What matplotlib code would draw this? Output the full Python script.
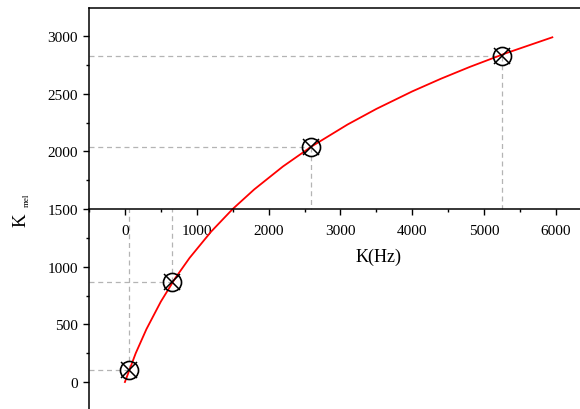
import matplotlib
matplotlib.use("Agg")
import matplotlib.pyplot as plt
from matplotlib.ticker import MultipleLocator

plt.rcParams['font.family'] = ['Liberation Serif', 'DejaVu Serif']

# curve (Hz -> mel)
freq_hz = [0, 150, 300, 500, 700, 900, 1200, 1500, 1800, 2200, 2600,
           3100, 3500, 4000, 4400, 4800, 5300, 5950]
mel = [0, 249, 459, 697, 900, 1076, 1304, 1500, 1670, 1869, 2043,
       2233, 2368, 2520, 2630, 2732, 2850, 2989]

# marked points
marker_hz = [60, 660, 2585, 5245]
marker_mel = [105, 865, 2035, 2825]

x_ticks = [0, 1000, 2000, 3000, 4000, 5000, 6000]
y_ticks = [0, 500, 1000, 1500, 2000, 2500, 3000]
x_cross = 1500  # y value where the x axis is drawn

fig = plt.figure(figsize=(5.8, 4.1), dpi=100)
ax = fig.add_axes([89 / 580, 0.0, 491 / 580, 401 / 410])
ax.set_xlim(-500, 6335)
ax.set_ylim(-234, 3243)

# guide lines from each marker to the axes
for fx, fy in zip(marker_hz, marker_mel):
    ax.plot([-500, fx], [fy, fy], color='#b4b4b4', lw=0.9,
            linestyle=(0, (4, 3)), zorder=1)
    ax.plot([fx, fx], [fy, x_cross], color='#b4b4b4', lw=0.9,
            linestyle=(0, (4, 3)), zorder=1)

ax.plot(freq_hz, mel, color='red', lw=1.3, zorder=2)
ax.plot(marker_hz, marker_mel, 'o', ms=13, mfc='none', mec='black',
        mew=1.2, zorder=3)
ax.plot(marker_hz, marker_mel, 'x', ms=12, mec='black', mew=1.1, zorder=3)

ax.spines['right'].set_visible(False)
ax.spines['bottom'].set_position(('data', x_cross))
for s in ['left', 'bottom', 'top']:
    ax.spines[s].set_linewidth(1.1)

ax.set_xticks(x_ticks)
ax.set_yticks(y_ticks)
ax.xaxis.set_minor_locator(MultipleLocator(500))
ax.yaxis.set_minor_locator(MultipleLocator(250))
ax.tick_params(which='major', direction='out', length=4.5, width=1.0,
               labelsize=11)
ax.tick_params(which='minor', direction='out', length=2.2, width=1.0)
ax.tick_params(axis='x', which='major', pad=6)
ax.tick_params(top=False, right=False, which='both')

ax.text(0.589, 0.3815, 'K(Hz)', transform=ax.transAxes, ha='center',
        va='center', fontsize=13)

# y label: K with a small, dropped "mel" subscript
fig.text(25 / 580, 1 - 227 / 410, 'K', rotation=90, rotation_mode='anchor',
         ha='left', va='baseline', fontsize=13.5)
fig.text(29 / 580, 1 - 207 / 410, 'mel', rotation=90, rotation_mode='anchor',
         ha='left', va='baseline', fontsize=6.5)

fig.savefig('out.png', dpi=100)
